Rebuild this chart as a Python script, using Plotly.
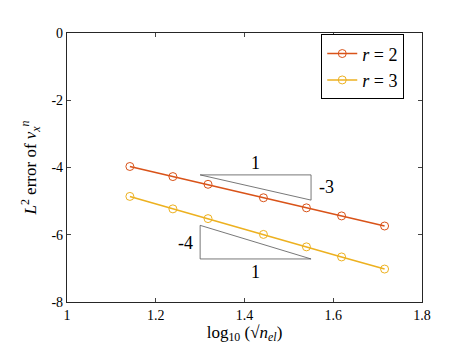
import plotly.graph_objects as go

# data: log10(sqrt(n_el)) and L2 error (log10)
x_vals = [1.1417, 1.2386, 1.3178, 1.4427, 1.5396, 1.6188, 1.7157]
err_r2 = [-3.97, -4.27, -4.50, -4.90, -5.20, -5.44, -5.74]
err_r3 = [-4.86, -5.23, -5.52, -5.99, -6.36, -6.66, -7.02]

x_ticks = [1, 1.2, 1.4, 1.6, 1.8]
y_ticks = [-8, -6, -4, -2, 0]

# slope triangles
tri3_x = [1.30, 1.55, 1.55, 1.30]
tri3_y = [-4.22, -4.22, -4.97, -4.22]
tri4_x = [1.30, 1.30, 1.55, 1.30]
tri4_y = [-5.72, -6.72, -6.72, -5.72]

serif = "Liberation Serif"
red = "#D95319"
yellow = "#EDB120"

fig = go.Figure()

fig.add_trace(go.Scatter(
    x=x_vals, y=err_r2, mode="lines+markers",
    name="<i>r</i> = 2",
    line=dict(color=red, width=1.6),
    marker=dict(symbol="circle-open", size=8, color=red)
))
fig.add_trace(go.Scatter(
    x=x_vals, y=err_r3, mode="lines+markers",
    name="<i>r</i> = 3",
    line=dict(color=yellow, width=1.6),
    marker=dict(symbol="circle-open", size=8, color=yellow)
))

# triangles
for tx, ty in [(tri3_x, tri3_y), (tri4_x, tri4_y)]:
    fig.add_trace(go.Scatter(
        x=tx, y=ty, mode="lines", showlegend=False,
        line=dict(color="#555555", width=0.8)
    ))

labels = [
    (1.425, -3.88, "1"),
    (1.585, -4.58, "-3"),
    (1.268, -6.25, "-4"),
    (1.425, -7.10, "1"),
]
for lx, ly, txt in labels:
    fig.add_annotation(x=lx, y=ly, text=txt, showarrow=False,
                       font=dict(family=serif, size=18))

fig.update_layout(
    width=457, height=343,
    margin=dict(l=59, r=43, t=25, b=49, autoexpand=False),
    plot_bgcolor="white",
    font=dict(family=serif, color="black"),
    xaxis=dict(range=[1, 1.8], tickvals=x_ticks,
               ticktext=[str(v) for v in x_ticks],
               automargin=False,
               showgrid=False, zeroline=False, showline=True, linecolor="#262626",
               linewidth=1.2, mirror="ticks", ticks="inside", ticklen=4,
               tickfont=dict(family=serif, size=14),
               title=dict(text="log<sub>10</sub> (&#8730;<i>n</i><sub><i>el</i></sub>)",
                          font=dict(family=serif, size=17),
                          standoff=2)),
    yaxis=dict(range=[-8, 0], tickvals=y_ticks,
               ticktext=[str(v) for v in y_ticks],
               automargin=False,
               showgrid=False, zeroline=False, showline=True, linecolor="#262626",
               linewidth=1.2, mirror="ticks", ticks="inside", ticklen=4,
               tickfont=dict(family=serif, size=14),
               title=dict(text="<i>L</i><sup>2</sup> error of <i>v</i><sub><i>x</i></sub><sup><i>n</i></sup>",
                          font=dict(family=serif, size=17),
                          standoff=10)),
    legend=dict(x=0.95, y=0.995, xanchor="right", yanchor="top",
                bgcolor="white", bordercolor="black", borderwidth=1,
                font=dict(family=serif, size=18)),
)

fig.write_html("out.html")
